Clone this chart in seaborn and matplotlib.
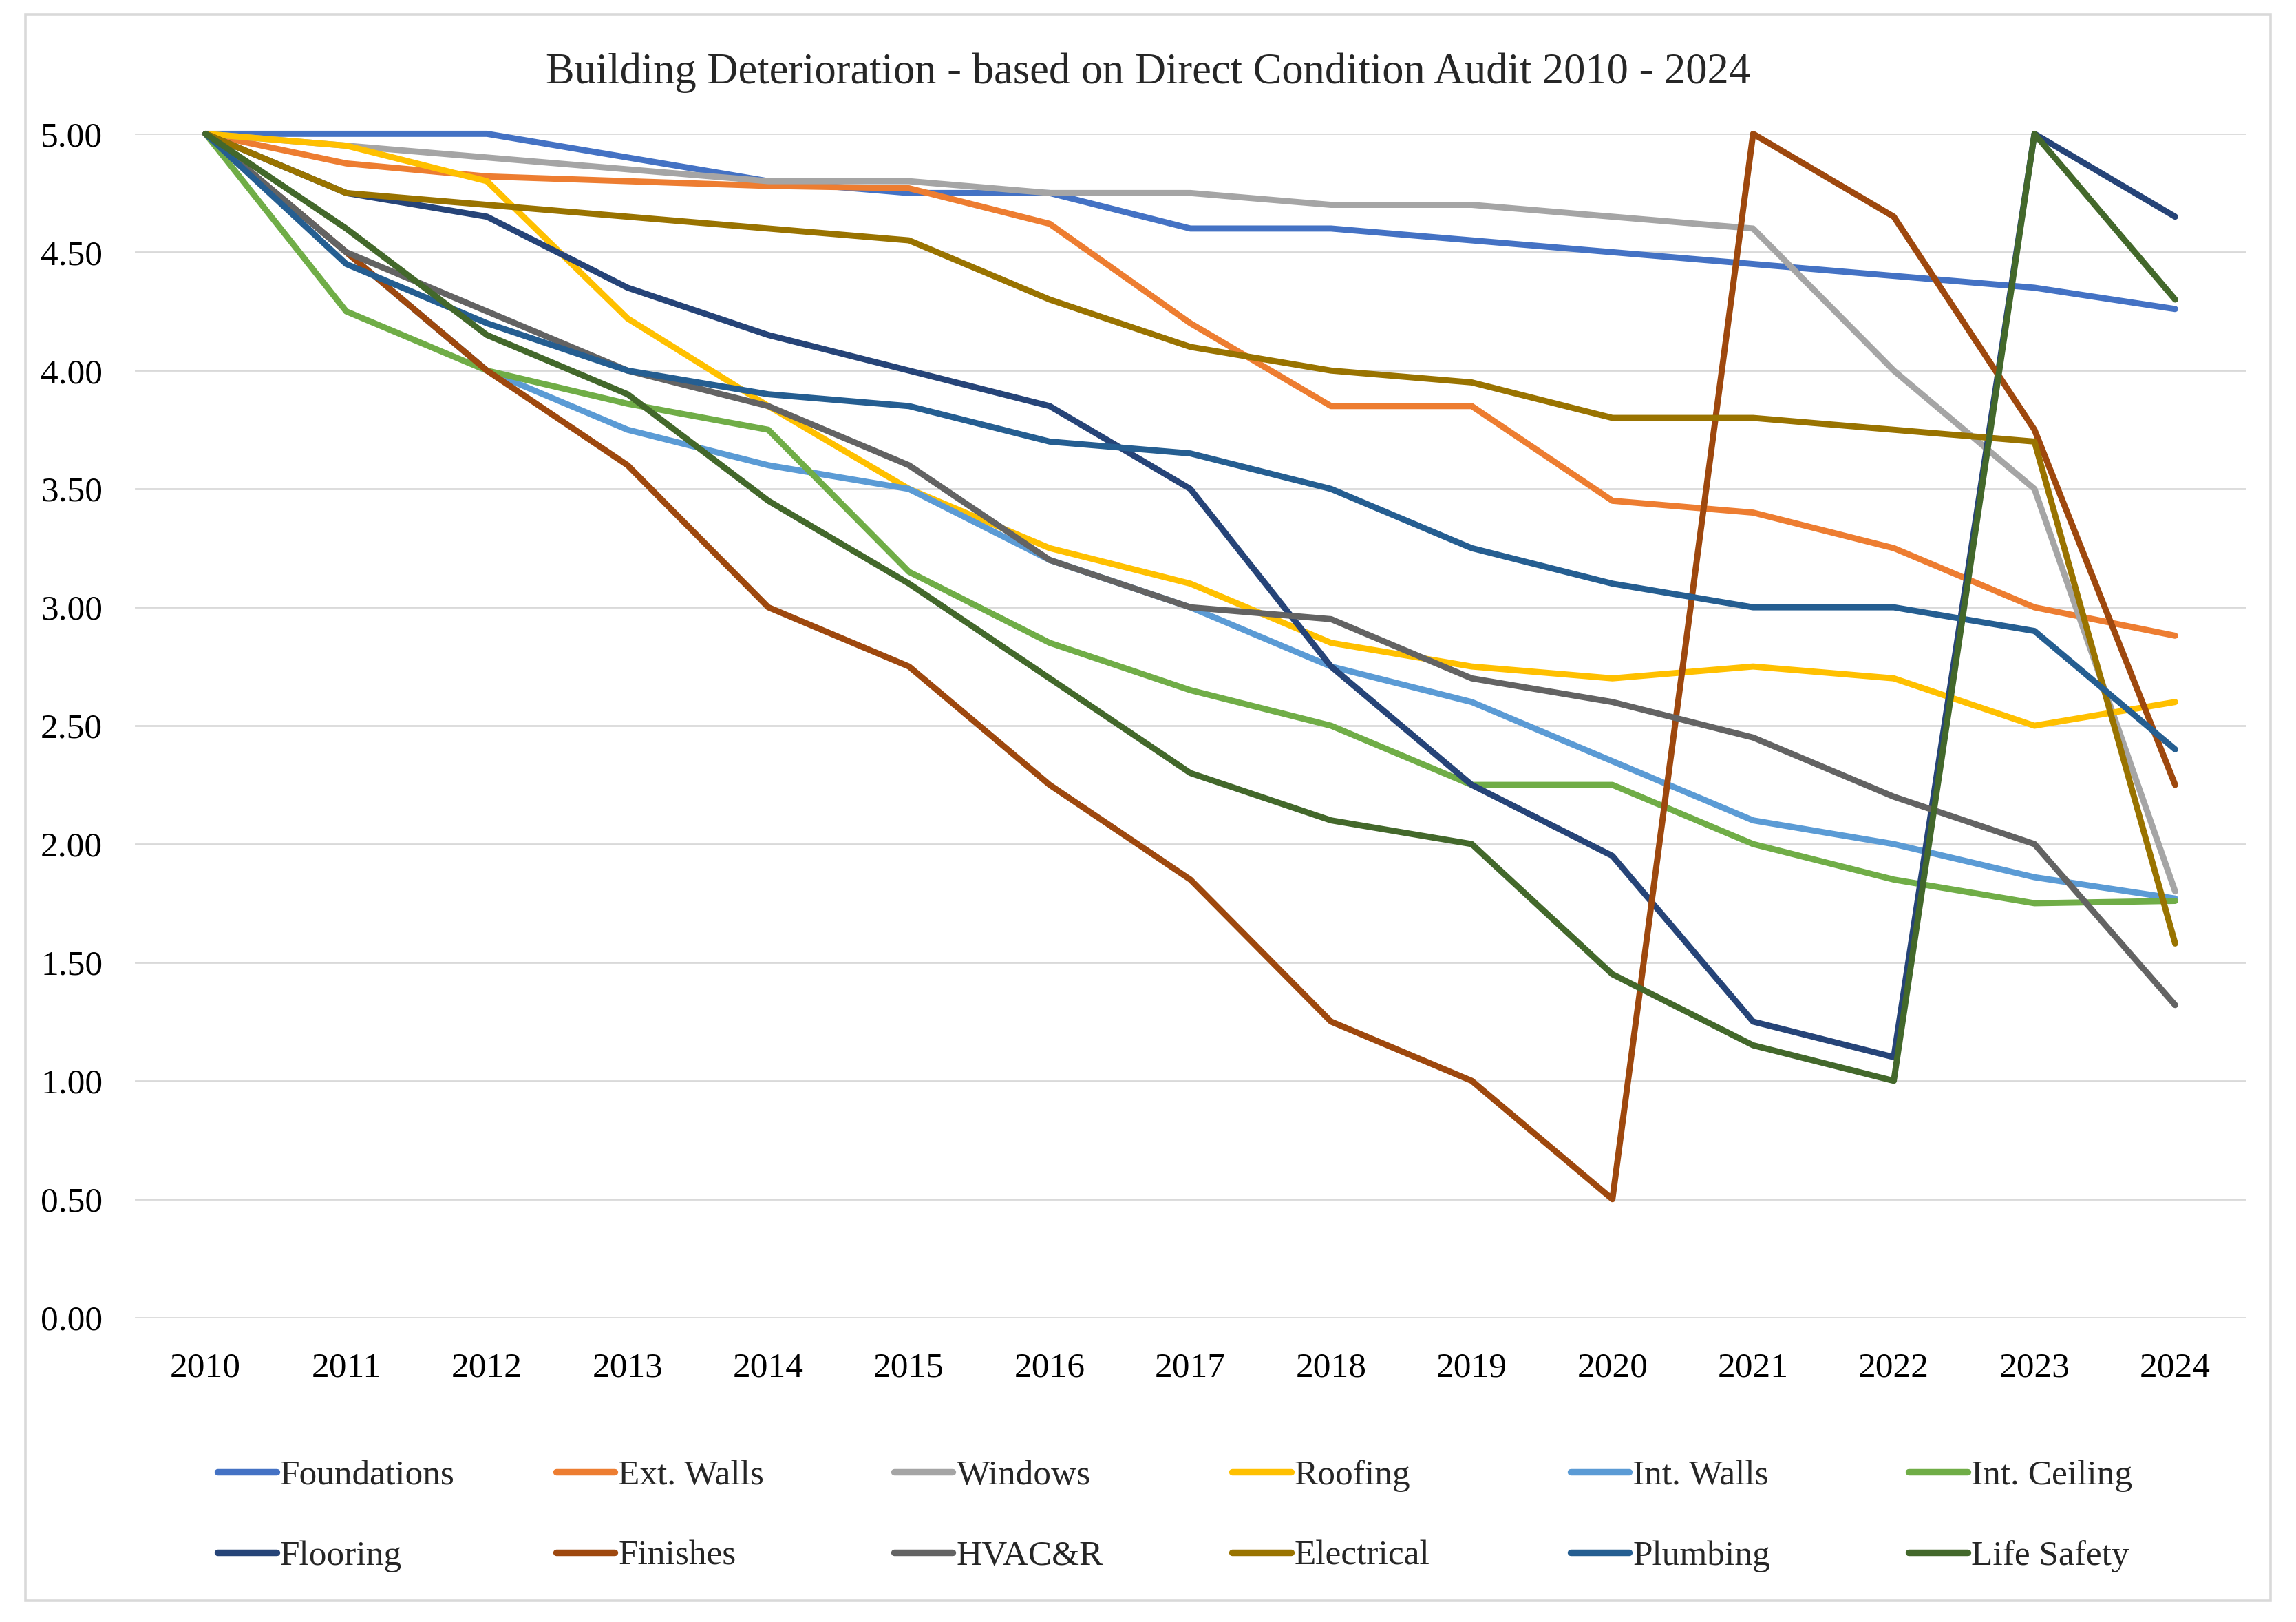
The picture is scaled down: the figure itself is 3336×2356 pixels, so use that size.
import matplotlib
matplotlib.use('Agg')
import matplotlib.pyplot as plt
import seaborn as sns
import pandas as pd
from matplotlib.patches import Rectangle

# Datos
years = [str(y) for y in range(2010, 2025)]

foundations = [5.00, 5.00, 5.00, 4.90, 4.80, 4.75, 4.75, 4.60, 4.60, 4.55, 4.50, 4.45, 4.40, 4.35, 4.26]
ext_walls   = [5.00, 4.875, 4.82, 4.80, 4.78, 4.77, 4.62, 4.20, 3.85, 3.85, 3.45, 3.40, 3.25, 3.00, 2.88]
windows     = [5.00, 4.95, 4.90, 4.85, 4.80, 4.80, 4.75, 4.75, 4.70, 4.70, 4.65, 4.60, 4.00, 3.50, 1.80]
roofing     = [5.00, 4.95, 4.80, 4.22, 3.85, 3.50, 3.25, 3.10, 2.85, 2.75, 2.70, 2.75, 2.70, 2.50, 2.60]
int_walls   = [5.00, 4.50, 4.00, 3.75, 3.60, 3.50, 3.20, 3.00, 2.75, 2.60, 2.35, 2.10, 2.00, 1.86, 1.77]
int_ceiling = [5.00, 4.25, 4.00, 3.86, 3.75, 3.15, 2.85, 2.65, 2.50, 2.25, 2.25, 2.00, 1.85, 1.75, 1.76]
flooring    = [5.00, 4.75, 4.65, 4.35, 4.15, 4.00, 3.85, 3.50, 2.75, 2.25, 1.95, 1.25, 1.10, 5.00, 4.65]
finishes    = [5.00, 4.50, 4.00, 3.60, 3.00, 2.75, 2.25, 1.85, 1.25, 1.00, 0.50, 5.00, 4.65, 3.75, 2.25]
hvac        = [5.00, 4.50, 4.25, 4.00, 3.85, 3.60, 3.20, 3.00, 2.95, 2.70, 2.60, 2.45, 2.20, 2.00, 1.32]
electrical  = [5.00, 4.75, 4.70, 4.65, 4.60, 4.55, 4.30, 4.10, 4.00, 3.95, 3.80, 3.80, 3.75, 3.70, 1.58]
plumbing    = [5.00, 4.45, 4.20, 4.00, 3.90, 3.85, 3.70, 3.65, 3.50, 3.25, 3.10, 3.00, 3.00, 2.90, 2.40]
life_safety = [5.00, 4.60, 4.15, 3.90, 3.45, 3.10, 2.70, 2.30, 2.10, 2.00, 1.45, 1.15, 1.00, 5.00, 4.30]

components = ["Foundations", "Ext. Walls", "Windows", "Roofing", "Int. Walls", "Int. Ceiling",
              "Flooring", "Finishes", "HVAC&R", "Electrical", "Plumbing", "Life Safety"]
series = [foundations, ext_walls, windows, roofing, int_walls, int_ceiling,
          flooring, finishes, hvac, electrical, plumbing, life_safety]
colors = ["#4472C4", "#ED7D31", "#A5A5A5", "#FFC000", "#5B9BD5", "#70AD47",
          "#264478", "#9E480E", "#636363", "#997300", "#255E91", "#43682B"]

rows = []
for name, vals in zip(components, series):
    for yr, v in zip(years, vals):
        rows.append({"Year": yr, "Score": v, "Component": name})
df = pd.DataFrame(rows)

sns.set_theme(style="white")
plt.rcParams['font.family'] = ['Liberation Serif', 'DejaVu Serif']

fig = plt.figure(figsize=(16.68, 11.78), dpi=200)
ax = fig.add_axes([0.0589, 0.1877, 0.9191, 0.7298])

LW = 3.2
sns.lineplot(data=df, x="Year", y="Score", hue="Component", hue_order=components,
             palette=dict(zip(components, colors)), linewidth=LW, sort=False,
             ax=ax, legend=False, clip_on=False,
             solid_joinstyle="round", solid_capstyle="round")

ax.set_xlim(-0.5, len(years) - 0.5)
ax.set_ylim(0, 5.0)
ax.set_yticks([i * 0.5 for i in range(11)])
ax.set_yticklabels([f"{i * 0.5:.2f}" for i in range(11)])
ax.yaxis.grid(True, color="#D9D9D9", linewidth=1.0)
ax.xaxis.grid(False)
ax.set_axisbelow(True)
for s in ax.spines.values():
    s.set_visible(False)
ax.tick_params(axis="both", length=0, labelsize=18.5, colors="#000000")
ax.tick_params(axis="y", pad=17)
ax.tick_params(axis="x", pad=18)
ax.set_xlabel("")
ax.set_ylabel("")

fig.text(0.5, 0.955, "Building Deterioration - based on Direct Condition Audit 2010 - 2024",
         ha="center", va="center", fontsize=22.5)

# leyenda: 6 columnas de ancho fijo, dos filas
handles = [plt.Line2D([0], [0], color=c, linewidth=3.4, solid_capstyle="round") for c in colors]
for k in range(6):
    fig.legend([handles[k], handles[k + 6]], [components[k], components[k + 6]],
               loc="center left", bbox_to_anchor=(0.0948 + k * 0.1473, 0.0653),
               frameon=False, fontsize=18.5, handlelength=1.66, handletextpad=0.1,
               labelspacing=1.35, borderpad=0, borderaxespad=0)

# borde exterior
fig.patches.append(Rectangle((0.011, 0.013), 0.978, 0.978, transform=fig.transFigure,
                             fill=False, edgecolor="#D9D9D9", linewidth=1.3))

fig.savefig("out.png", dpi=200)
plt.close()
